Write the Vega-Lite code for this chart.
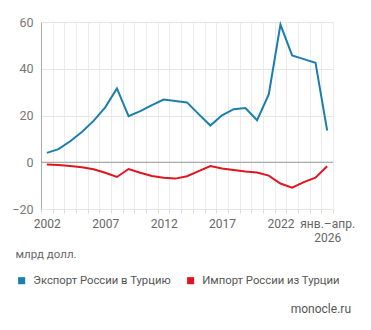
{
  "$schema": "https://vega.github.io/schema/vega-lite/v6.json",
  "autosize": "none",
  "width": 292,
  "height": 187,
  "padding": {"left": 41, "top": 22, "right": 38, "bottom": 121},
  "background": "white",
  "config": {
    "font": "Roboto",
    "view": {"stroke": null}
  },
  "title": {
    "text": "monocle.ru",
    "orient": "bottom",
    "anchor": "end",
    "frame": "group",
    "fontSize": 12,
    "fontWeight": "normal",
    "color": "#555",
    "dx": 18,
    "offset": 18
  },
  "data": {
    "values": [
      {"year": "2002", "series": "Экспорт России в Турцию", "value": 4.0},
      {"year": "2003", "series": "Экспорт России в Турцию", "value": 5.6},
      {"year": "2004", "series": "Экспорт России в Турцию", "value": 9.0},
      {"year": "2005", "series": "Экспорт России в Турцию", "value": 12.9},
      {"year": "2006", "series": "Экспорт России в Турцию", "value": 17.7},
      {"year": "2007", "series": "Экспорт России в Турцию", "value": 23.5},
      {"year": "2008", "series": "Экспорт России в Турцию", "value": 31.6},
      {"year": "2009", "series": "Экспорт России в Турцию", "value": 19.7},
      {"year": "2010", "series": "Экспорт России в Турцию", "value": 21.9},
      {"year": "2011", "series": "Экспорт России в Турцию", "value": 24.4},
      {"year": "2012", "series": "Экспорт России в Турцию", "value": 26.8},
      {"year": "2013", "series": "Экспорт России в Турцию", "value": 26.2},
      {"year": "2014", "series": "Экспорт России в Турцию", "value": 25.6},
      {"year": "2015", "series": "Экспорт России в Турцию", "value": 20.6},
      {"year": "2016", "series": "Экспорт России в Турцию", "value": 15.7},
      {"year": "2017", "series": "Экспорт России в Турцию", "value": 20.1},
      {"year": "2018", "series": "Экспорт России в Турцию", "value": 22.7},
      {"year": "2019", "series": "Экспорт России в Турцию", "value": 23.2},
      {"year": "2020", "series": "Экспорт России в Турцию", "value": 18.0},
      {"year": "2021", "series": "Экспорт России в Турцию", "value": 29.0},
      {"year": "2022", "series": "Экспорт России в Турцию", "value": 58.9},
      {"year": "2023", "series": "Экспорт России в Турцию", "value": 45.7},
      {"year": "2024", "series": "Экспорт России в Турцию", "value": 44.1},
      {"year": "2025", "series": "Экспорт России в Турцию", "value": 42.6},
      {"year": "2026", "series": "Экспорт России в Турцию", "value": 13.6},
      {"year": "2002", "series": "Импорт России из Турции", "value": -1.0},
      {"year": "2003", "series": "Импорт России из Турции", "value": -1.2},
      {"year": "2004", "series": "Импорт России из Турции", "value": -1.6},
      {"year": "2005", "series": "Импорт России из Турции", "value": -2.1},
      {"year": "2006", "series": "Импорт России из Турции", "value": -3.0},
      {"year": "2007", "series": "Импорт России из Турции", "value": -4.5},
      {"year": "2008", "series": "Импорт России из Турции", "value": -6.3},
      {"year": "2009", "series": "Импорт России из Турции", "value": -2.9},
      {"year": "2010", "series": "Импорт России из Турции", "value": -4.5},
      {"year": "2011", "series": "Импорт России из Турции", "value": -5.9},
      {"year": "2012", "series": "Импорт России из Турции", "value": -6.6},
      {"year": "2013", "series": "Импорт России из Турции", "value": -7.0},
      {"year": "2014", "series": "Импорт России из Турции", "value": -6.0},
      {"year": "2015", "series": "Импорт России из Турции", "value": -3.8},
      {"year": "2016", "series": "Импорт России из Турции", "value": -1.6},
      {"year": "2017", "series": "Импорт России из Турции", "value": -2.7},
      {"year": "2018", "series": "Импорт России из Турции", "value": -3.3},
      {"year": "2019", "series": "Импорт России из Турции", "value": -4.0},
      {"year": "2020", "series": "Импорт России из Турции", "value": -4.4},
      {"year": "2021", "series": "Импорт России из Турции", "value": -5.7},
      {"year": "2022", "series": "Импорт России из Турции", "value": -9.1},
      {"year": "2023", "series": "Импорт России из Турции", "value": -10.9},
      {"year": "2024", "series": "Импорт России из Турции", "value": -8.5},
      {"year": "2025", "series": "Импорт России из Турции", "value": -6.6},
      {"year": "2026", "series": "Импорт России из Турции", "value": -1.7}
    ]
  },
  "layer": [
    {
      "mark": {"type": "rule", "color": "#999", "strokeWidth": 1},
      "data": {"values": [{"zero": 0}]},
      "encoding": {"y": {"field": "zero", "type": "quantitative"}}
    },
    {
      "mark": {"type": "line", "strokeWidth": 2, "strokeJoin": "miter", "interpolate": "linear"},
      "encoding": {
        "x": {
          "field": "year",
          "type": "ordinal",
          "scale": {"type": "band", "paddingInner": 0, "paddingOuter": 0},
          "axis": {
            "title": "млрд долл.",
            "titleAnchor": "start",
            "titleAlign": "left",
            "titleBaseline": "alphabetic",
            "titleX": -26,
            "titleY": 48,
            "titleFontSize": 11.5,
            "titleFontWeight": "normal",
            "titleColor": "#666",
            "tickBand": "extent",
            "domain": false,
            "grid": true,
            "gridColor": "#ececec",
            "gridWidth": 1,
            "ticks": true,
            "tickColor": "#ddd",
            "tickSize": 4,
            "labelAngle": 0,
            "labelOverlap": false,
            "labelPadding": 5,
            "labelFontSize": 12,
            "labelColor": "#666",
            "labelLineHeight": 14,
            "labelExpr": "datum.value == '2026' ? ['янв.–апр.', '2026'] : (indexof(['2002','2007','2012','2017','2022'], datum.value) >= 0 ? datum.value : '')"
          }
        },
        "y": {
          "field": "value",
          "type": "quantitative",
          "scale": {"domain": [-20, 60], "nice": false},
          "axis": {
            "title": null,
            "values": [-20, 0, 20, 40, 60],
            "grid": true,
            "gridColor": "#e6e6e6",
            "domain": true,
            "domainColor": "#aaa",
            "ticks": false,
            "labelPadding": 8,
            "labelFontSize": 12.5,
            "labelColor": "#777"
          }
        },
        "color": {
          "field": "series",
          "type": "nominal",
          "scale": {
            "domain": ["Экспорт России в Турцию", "Импорт России из Турции"],
            "range": ["#1a7fac", "#e0151f"]
          },
          "legend": {
            "title": null,
            "orient": "none",
            "legendX": -25,
            "legendY": 253,
            "direction": "horizontal",
            "symbolType": "square",
            "symbolSize": 50,
            "labelFontSize": 11.3,
            "labelColor": "#555",
            "labelOffset": 6,
            "labelLimit": 300,
            "columnPadding": 14,
            "encode": {
              "symbols": {
                "update": {
                  "fill": {"scale": "color", "field": "value"},
                  "strokeWidth": {"value": 0}
                }
              }
            }
          }
        }
      }
    }
  ]
}
